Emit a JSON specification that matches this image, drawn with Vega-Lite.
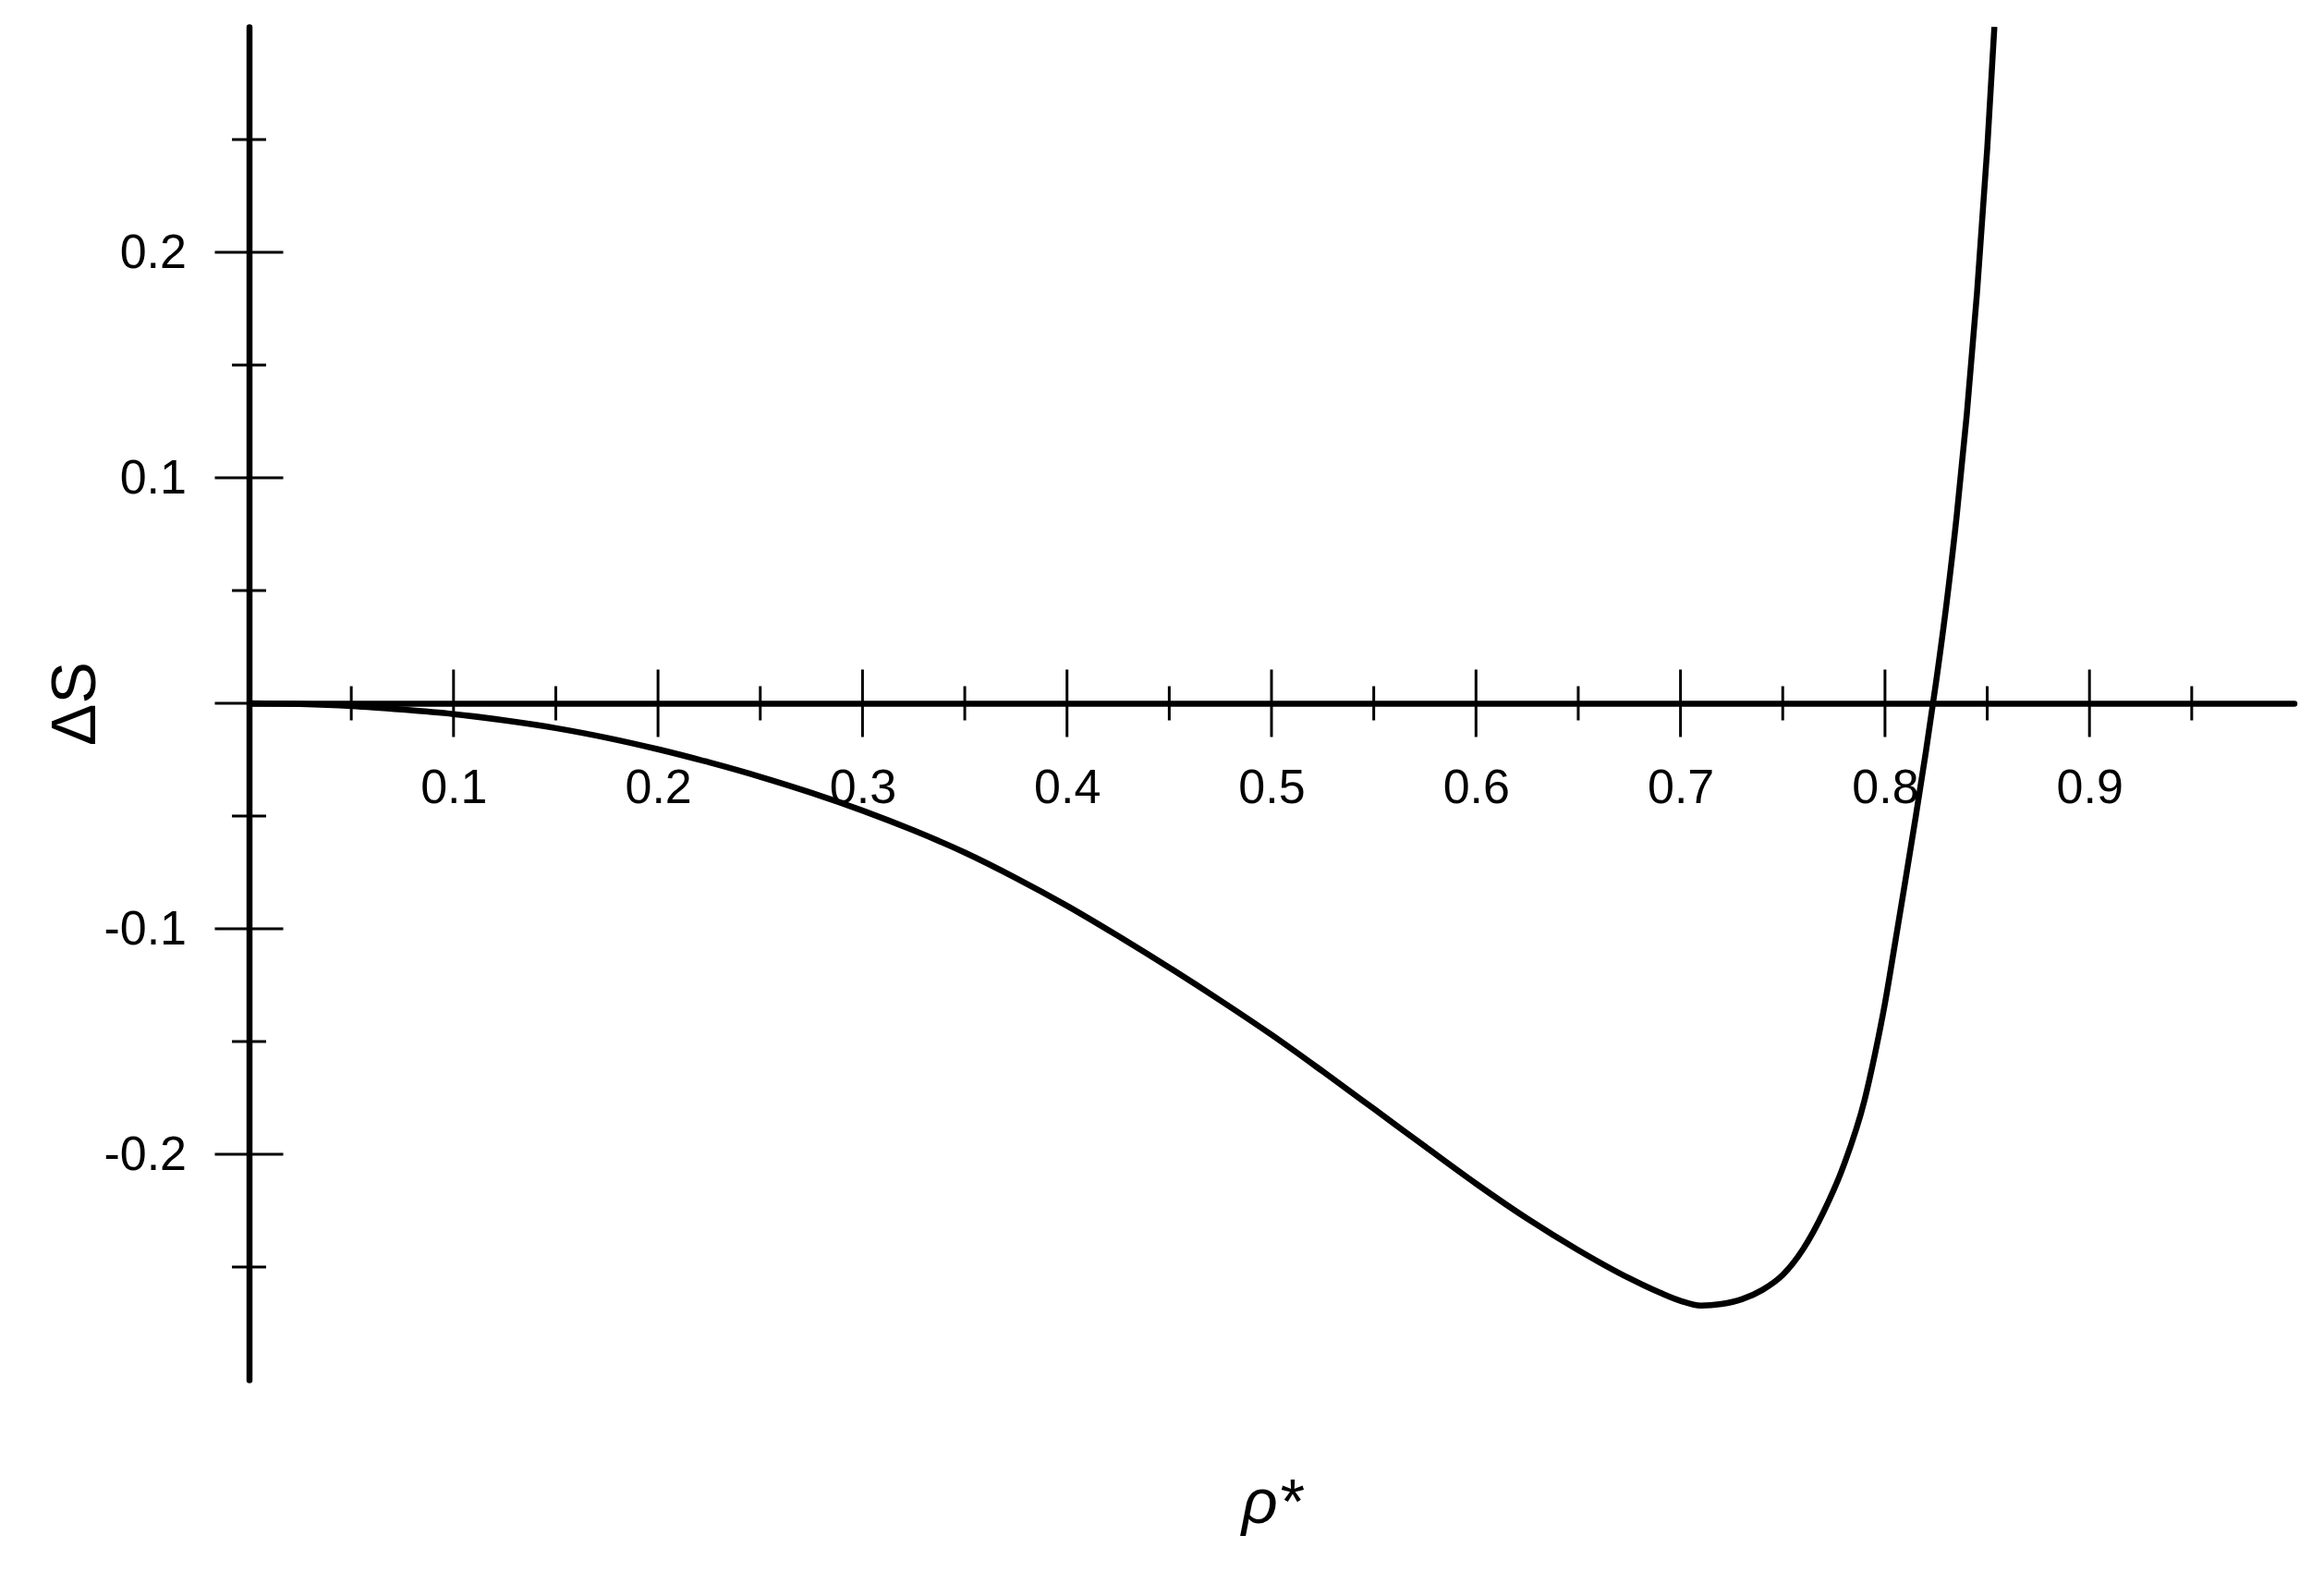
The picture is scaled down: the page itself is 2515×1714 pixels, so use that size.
{
  "$schema": "https://vega.github.io/schema/vega-lite/v6.json",
  "width": 2213,
  "height": 1464,
  "autosize": {"type": "none"},
  "padding": {"left": 269.5, "top": 29, "right": 32.5, "bottom": 221},
  "background": "white",
  "config": {
    "view": {"stroke": null},
    "font": "Liberation Sans"
  },
  "datasets": {
    "curve": [
      {"rho": 0, "dS": 0},
      {"rho": 0.025, "dS": -0.0003},
      {"rho": 0.05, "dS": -0.0012},
      {"rho": 0.075, "dS": -0.0028},
      {"rho": 0.1, "dS": -0.0048},
      {"rho": 0.125, "dS": -0.0076},
      {"rho": 0.15, "dS": -0.011},
      {"rho": 0.175, "dS": -0.0153},
      {"rho": 0.2, "dS": -0.0204},
      {"rho": 0.225, "dS": -0.0262},
      {"rho": 0.25, "dS": -0.0326},
      {"rho": 0.275, "dS": -0.0397},
      {"rho": 0.3, "dS": -0.0476},
      {"rho": 0.325, "dS": -0.0564},
      {"rho": 0.35, "dS": -0.0662},
      {"rho": 0.375, "dS": -0.0775},
      {"rho": 0.4, "dS": -0.0898},
      {"rho": 0.425, "dS": -0.1032},
      {"rho": 0.45, "dS": -0.1172},
      {"rho": 0.475, "dS": -0.1318},
      {"rho": 0.5, "dS": -0.147},
      {"rho": 0.525, "dS": -0.1632},
      {"rho": 0.55, "dS": -0.1798},
      {"rho": 0.575, "dS": -0.1965},
      {"rho": 0.6, "dS": -0.213},
      {"rho": 0.625, "dS": -0.2285},
      {"rho": 0.65, "dS": -0.2425},
      {"rho": 0.675, "dS": -0.255},
      {"rho": 0.69, "dS": -0.2614},
      {"rho": 0.7, "dS": -0.2650},
      {"rho": 0.71, "dS": -0.2671},
      {"rho": 0.72, "dS": -0.2664},
      {"rho": 0.73, "dS": -0.2643},
      {"rho": 0.74, "dS": -0.2602},
      {"rho": 0.75, "dS": -0.2535},
      {"rho": 0.76, "dS": -0.242},
      {"rho": 0.77, "dS": -0.2255},
      {"rho": 0.78, "dS": -0.2045},
      {"rho": 0.79, "dS": -0.176},
      {"rho": 0.795, "dS": -0.156},
      {"rho": 0.8, "dS": -0.133},
      {"rho": 0.805, "dS": -0.106},
      {"rho": 0.81, "dS": -0.0785},
      {"rho": 0.815, "dS": -0.0505},
      {"rho": 0.82, "dS": -0.0215},
      {"rho": 0.825, "dS": 0.0095},
      {"rho": 0.83, "dS": 0.0435},
      {"rho": 0.835, "dS": 0.0825},
      {"rho": 0.84, "dS": 0.128},
      {"rho": 0.845, "dS": 0.182},
      {"rho": 0.85, "dS": 0.246},
      {"rho": 0.8535, "dS": 0.3}
    ],
    "xMajor": [{"v": 0.1}, {"v": 0.2}, {"v": 0.3}, {"v": 0.4}, {"v": 0.5}, {"v": 0.6}, {"v": 0.7}, {"v": 0.8}, {"v": 0.9}],
    "xMinor": [{"v": 0.05}, {"v": 0.15}, {"v": 0.25}, {"v": 0.35}, {"v": 0.45}, {"v": 0.55}, {"v": 0.65}, {"v": 0.75}, {"v": 0.85}, {"v": 0.95}],
    "yMajor": [{"v": -0.2}, {"v": -0.1}, {"v": 0}, {"v": 0.1}, {"v": 0.2}],
    "yMinor": [{"v": -0.25}, {"v": -0.15}, {"v": -0.05}, {"v": 0.05}, {"v": 0.15}, {"v": 0.25}]
  },
  "layer": [
    {
      "data": {"name": "curve"},
      "mark": {"type": "line", "color": "black", "strokeWidth": 6.5, "interpolate": "monotone", "clip": true},
      "encoding": {
        "x": {
          "field": "rho", "type": "quantitative",
          "scale": {"domain": [0, 1], "nice": false, "zero": false},
          "axis": {
            "orient": "bottom",
            "offset": -732,
            "values": [0.1, 0.2, 0.3, 0.4, 0.5, 0.6, 0.7, 0.8, 0.9],
            "labelExpr": "'' + datum.value",
            "ticks": false,
            "tickSize": 0,
            "grid": false,
            "domain": true,
            "domainColor": "black",
            "domainWidth": 6.5,
            "domainCap": "round",
            "labelFont": "Liberation Sans",
            "labelFontSize": 52,
            "labelColor": "black",
            "labelPadding": 66,
            "labelFlush": false,
            "labelOverlap": false,
            "title": "ρ*",
            "titleFont": "Liberation Sans",
            "titleFontStyle": "italic",
            "titleFontWeight": "normal",
            "titleFontSize": 68,
            "titleColor": "black",
            "titleAnchor": "middle",
            "titleAlign": "center",
            "titleBaseline": "alphabetic",
            "titleX": 1106.5,
            "titleY": 886
          }
        },
        "y": {
          "field": "dS", "type": "quantitative",
          "scale": {"domain": [-0.3, 0.3], "nice": false, "zero": false},
          "axis": {
            "orient": "left",
            "values": [-0.2, -0.1, 0.1, 0.2],
            "labelExpr": "'' + datum.value",
            "ticks": false,
            "tickSize": 0,
            "grid": false,
            "domain": true,
            "domainColor": "black",
            "domainWidth": 6.5,
            "domainCap": "round",
            "labelFont": "Liberation Sans",
            "labelFontSize": 52,
            "labelColor": "black",
            "labelPadding": 68,
            "labelFlush": false,
            "labelOverlap": false,
            "title": "ΔS",
            "titleFont": "Liberation Sans",
            "titleFontWeight": "normal",
            "titleFontSize": 68,
            "titleColor": "black",
            "titleAngle": -90,
            "titleAlign": "center",
            "titleBaseline": "alphabetic",
            "titleX": -167,
            "titleY": 732
          }
        }
      }
    },
    {
      "data": {"name": "xMajor"},
      "mark": {"type": "tick", "orient": "vertical", "color": "black", "opacity": 1, "size": 73, "thickness": 3},
      "encoding": {"x": {"field": "v", "type": "quantitative"}, "y": {"datum": 0, "type": "quantitative"}}
    },
    {
      "data": {"name": "xMinor"},
      "mark": {"type": "tick", "orient": "vertical", "color": "black", "opacity": 1, "size": 37, "thickness": 3},
      "encoding": {"x": {"field": "v", "type": "quantitative"}, "y": {"datum": 0, "type": "quantitative"}}
    },
    {
      "data": {"name": "yMajor"},
      "mark": {"type": "tick", "orient": "horizontal", "color": "black", "opacity": 1, "size": 74, "thickness": 3},
      "encoding": {"y": {"field": "v", "type": "quantitative"}, "x": {"datum": 0, "type": "quantitative"}}
    },
    {
      "data": {"name": "yMinor"},
      "mark": {"type": "tick", "orient": "horizontal", "color": "black", "opacity": 1, "size": 37, "thickness": 3},
      "encoding": {"y": {"field": "v", "type": "quantitative"}, "x": {"datum": 0, "type": "quantitative"}}
    }
  ]
}
